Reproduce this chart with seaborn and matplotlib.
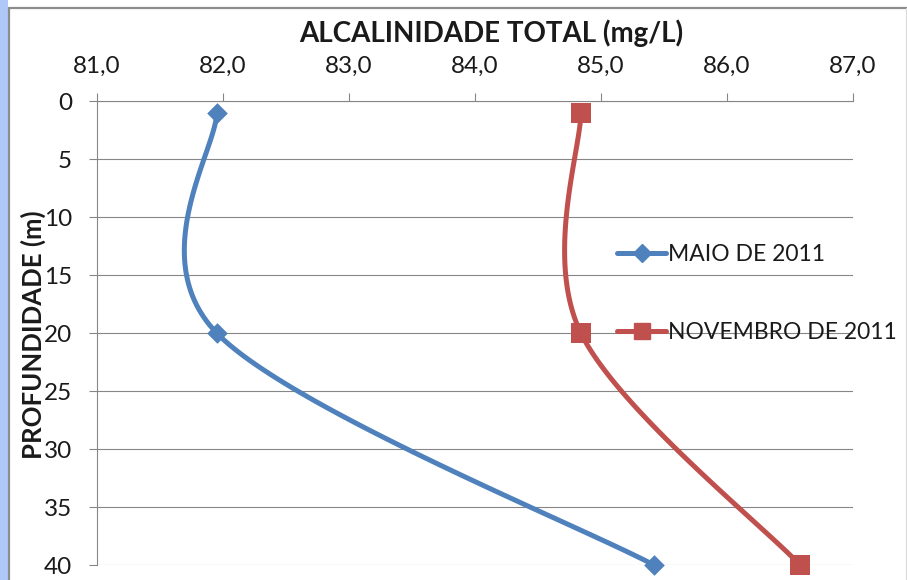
import numpy as np
import pandas as pd
import matplotlib
matplotlib.use("Agg")
import matplotlib.pyplot as plt
from matplotlib.lines import Line2D
from matplotlib.patches import Rectangle
import seaborn as sns

# Sampling depths (m) and total alkalinity (mg/L) for each campaign
depth = [1, 20, 40]
maio = [81.95, 81.95, 85.42]
novembro = [84.84, 84.84, 86.58]
series_names = ["MAIO DE 2011", "NOVEMBRO DE 2011"]
x_ticks = [81, 82, 83, 84, 85, 86, 87]
y_ticks = [0, 5, 10, 15, 20, 25, 30, 35, 40]

BLUE = "#4F81BD"
RED = "#C0504D"
GRID = "#868686"
TXT = "#1a1a1a"

sns.set_theme(style="white")
plt.rcParams["font.family"] = ["Lato", "DejaVu Sans"]


def smooth_curve(xs, ys, n=60):
    """Cubic Bezier smoothing through the points (spreadsheet-style)."""
    pts = np.column_stack([xs, ys]).astype(float)
    ext = np.vstack([pts[0], pts, pts[-1]])
    out = []
    for i in range(len(pts) - 1):
        p0, p1 = ext[i + 1], ext[i + 2]
        c1 = p0 + (ext[i + 2] - ext[i]) / 6.0
        c2 = p1 - (ext[i + 3] - ext[i + 1]) / 6.0
        t = np.linspace(0, 1, n)[:, None]
        seg = ((1 - t) ** 3) * p0 + 3 * ((1 - t) ** 2) * t * c1 \
            + 3 * (1 - t) * t ** 2 * c2 + t ** 3 * p1
        out.append(seg if i == 0 else seg[1:])
    seg = np.vstack(out)
    return seg[:, 0], seg[:, 1]


fig = plt.figure(figsize=(9.07, 5.80), dpi=100)
fig.patch.set_facecolor("white")
W, H = 907, 580
ax = fig.add_axes([97 / W, 1 - 565 / H, (853 - 97) / W, (565 - 101) / H])

styles = [(maio, BLUE, "D", 10.5), (novembro, RED, "s", 14)]
for (vals, col, mk, ms), name in zip(styles, series_names):
    sx, sy = smooth_curve(vals, depth)
    curve = pd.DataFrame({"alc": sx, "prof": sy})
    sns.lineplot(data=curve, x="alc", y="prof", sort=False, estimator=None,
                 color=col, lw=3.6, ax=ax, clip_on=False, zorder=3)
    pts = pd.DataFrame({"alc": vals, "prof": depth})
    sns.scatterplot(data=pts, x="alc", y="prof", marker=mk, s=ms ** 2,
                    color=col, edgecolor=col, linewidth=0, ax=ax,
                    clip_on=False, zorder=4)

ax.set_xlim(81, 87)
ax.set_ylim(40, 0)
ax.set_xticks(x_ticks)
ax.set_xticklabels([f"{v:.1f}".replace(".", ",") for v in x_ticks])
ax.set_yticks(y_ticks)
ax.xaxis.tick_top()
ax.tick_params(axis="x", which="both", top=True, bottom=False, direction="out",
               length=5.5, width=0.8, color=GRID, labelsize=17.5, labelcolor=TXT, pad=12)
ax.tick_params(axis="y", left=True, direction="out", length=5.5, width=0.8,
               color=GRID, labelsize=17.5, labelcolor=TXT, pad=12.5)
ax.yaxis.grid(True, color=GRID, lw=0.8)
ax.xaxis.grid(False)
for side in ["right", "bottom"]:
    ax.spines[side].set_visible(False)
for side in ["left", "top"]:
    ax.spines[side].set_color(GRID)
    ax.spines[side].set_linewidth(0.8)

ax.set_xlabel("ALCALINIDADE TOTAL (mg/L)", fontsize=20, fontweight="bold", color=TXT)
ax.xaxis.set_label_position("top")
ax.xaxis.set_label_coords((491 - 97) / 756, (565 - 33) / 464)
ax.xaxis.label.set_verticalalignment("center")
ax.set_ylabel("PROFUNDIDADE (m)", fontsize=18.5, fontweight="bold", color=TXT)
ax.yaxis.set_label_coords((33 - 97) / 756, (565 - 335) / 464)
ax.yaxis.label.set_verticalalignment("center")

handles = [Line2D([], [], color=BLUE, lw=3.6, marker="D", markersize=9),
           Line2D([], [], color=RED, lw=3.6, marker="s", markersize=12)]
fig.legend(handles, series_names, loc="upper left",
           bbox_to_anchor=(606 / W, 1 - 233 / H), frameon=False,
           fontsize=16.5, handlelength=2.1, handletextpad=0.12,
           labelspacing=2.45, borderpad=0, labelcolor=TXT)

# window frame around the chart
fig.add_artist(Rectangle((0, 0), 8 / W, 1, transform=fig.transFigure,
                         facecolor="#AFC8F7", edgecolor="none"))
fig.add_artist(Line2D([8.5 / W, 8.5 / W], [0, 1 - 7.5 / H], transform=fig.transFigure,
                      color="#8C8C8C", lw=1.6))
fig.add_artist(Line2D([8.5 / W, 1], [1 - 7.5 / H, 1 - 7.5 / H], transform=fig.transFigure,
                      color="#8C8C8C", lw=1.6))
fig.add_artist(Line2D([905.5 / W, 905.5 / W], [0, 1 - 8 / H], transform=fig.transFigure,
                      color="#D9D9D9", lw=0.8))

fig.savefig("out.png", dpi=100)
